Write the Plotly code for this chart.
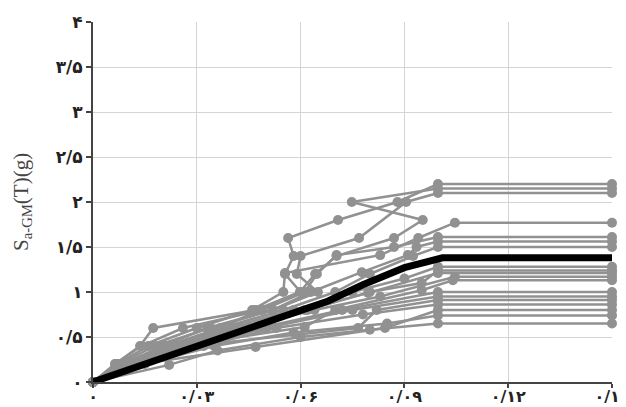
import plotly.graph_objects as go

# Gray IDA records: drift (x) and Sa (y); last point is the flat collapse line end
r01_x = [0, 0.008, 0.022, 0.037, 0.048, 0.060, 0.0555, 0.058, 0.0564, 0.0708, 0.088, 0.0997, 0.15]
r01_y = [0, 0.2, 0.4, 0.6, 0.8, 1.0, 1.2, 1.4, 1.6, 1.8, 2.0, 2.2, 2.2]
r02_x = [0, 0.0064, 0.0136, 0.0174, 0.047, 0.0598, 0.0642, 0.0704, 0.087, 0.0953, 0.0748, 0.0997, 0.15]
r02_y = [0, 0.2, 0.4, 0.6, 0.8, 1.0, 1.2, 1.4, 1.6, 1.8, 2.0, 2.15, 2.15]
r03_x = [0, 0.009, 0.020, 0.033, 0.052, 0.065, 0.0589, 0.060, 0.0769, 0.0905, 0.0997, 0.15]
r03_y = [0, 0.2, 0.4, 0.6, 0.8, 1.0, 1.2, 1.4, 1.6, 2.0, 2.1, 2.1]
r04_x = [0, 0.007, 0.016, 0.030, 0.046, 0.055, 0.0555, 0.083, 0.094, 0.1046, 0.15]
r04_y = [0, 0.2, 0.4, 0.6, 0.8, 1.0, 1.21, 1.41, 1.6, 1.77, 1.77]
r05_x = [0, 0.0064, 0.014, 0.026, 0.049, 0.0612, 0.0647, 0.0704, 0.087, 0.0997, 0.15]
r05_y = [0, 0.2, 0.4, 0.6, 0.8, 1.0, 1.2, 1.41, 1.5, 1.61, 1.61]
r06_x = [0, 0.0075, 0.018, 0.034, 0.052, 0.063, 0.0777, 0.091, 0.0935, 0.0997, 0.15]
r06_y = [0, 0.2, 0.4, 0.6, 0.8, 1.0, 1.22, 1.41, 1.5, 1.56, 1.56]
r07_x = [0, 0.008, 0.021, 0.037, 0.055, 0.070, 0.080, 0.0925, 0.0997, 0.15]
r07_y = [0, 0.2, 0.4, 0.6, 0.8, 1.0, 1.2, 1.4, 1.5, 1.5]
r08_x = [0, 0.009, 0.022, 0.039, 0.058, 0.075, 0.090, 0.0997, 0.15]
r08_y = [0, 0.2, 0.4, 0.6, 0.8, 1.0, 1.15, 1.28, 1.28]
r09_x = [0, 0.010, 0.024, 0.041, 0.062, 0.080, 0.095, 0.0997, 0.15]
r09_y = [0, 0.2, 0.4, 0.6, 0.8, 1.0, 1.1, 1.24, 1.24]
r10_x = [0, 0.0095, 0.023, 0.045, 0.0612, 0.0795, 0.0997, 0.15]
r10_y = [0, 0.2, 0.4, 0.6, 0.8, 0.99, 1.21, 1.21]
r11_x = [0, 0.011, 0.026, 0.043, 0.064, 0.083, 0.1046, 0.15]
r11_y = [0, 0.2, 0.4, 0.6, 0.8, 0.95, 1.17, 1.17]
r12_x = [0, 0.010, 0.025, 0.0612, 0.070, 0.095, 0.104, 0.15]
r12_y = [0, 0.2, 0.4, 0.61, 0.8, 1.02, 1.13, 1.13]
r13_x = [0, 0.012, 0.028, 0.048, 0.072, 0.0997, 0.15]
r13_y = [0, 0.2, 0.4, 0.6, 0.8, 1.0, 1.0]
r14_x = [0, 0.0115, 0.030, 0.050, 0.075, 0.0997, 0.15]
r14_y = [0, 0.2, 0.4, 0.6, 0.8, 0.95, 0.95]
r15_x = [0, 0.012, 0.0256, 0.0766, 0.082, 0.0997, 0.15]
r15_y = [0, 0.2, 0.39, 0.6, 0.8, 0.91, 0.91]
r16_x = [0, 0.013, 0.032, 0.053, 0.078, 0.0997, 0.15]
r16_y = [0, 0.2, 0.4, 0.6, 0.75, 0.86, 0.86]
r17_x = [0, 0.0136, 0.047, 0.0844, 0.0997, 0.15]
r17_y = [0, 0.2, 0.39, 0.6, 0.8, 0.8]
r18_x = [0, 0.015, 0.035, 0.058, 0.085, 0.0997, 0.15]
r18_y = [0, 0.2, 0.4, 0.55, 0.65, 0.74, 0.74]
r19_x = [0, 0.022, 0.036, 0.060, 0.080, 0.0997, 0.15]
r19_y = [0, 0.19, 0.35, 0.5, 0.58, 0.65, 0.65]

# Median curve
median_x = [0, 0.020, 0.035, 0.054, 0.068, 0.078, 0.090, 0.101, 0.15]
median_y = [0, 0.27, 0.47, 0.72, 0.90, 1.08, 1.27, 1.38, 1.38]

x_tickvals = [0, 0.03, 0.06, 0.09, 0.12, 0.15]
x_ticktext = ["۰", "۰/۰۳", "۰/۰۶", "۰/۰۹", "۰/۱۲", "۰/۱۵"]
y_tickvals = [0, 0.5, 1, 1.5, 2, 2.5, 3, 3.5, 4]
y_ticktext = ["۰", "۰/۵", "۱", "۱/۵", "۲", "۲/۵", "۳", "۳/۵", "۴"]

records = [
    (r01_x, r01_y), (r02_x, r02_y), (r03_x, r03_y), (r04_x, r04_y), (r05_x, r05_y),
    (r06_x, r06_y), (r07_x, r07_y), (r08_x, r08_y), (r09_x, r09_y), (r10_x, r10_y),
    (r11_x, r11_y), (r12_x, r12_y), (r13_x, r13_y), (r14_x, r14_y), (r15_x, r15_y),
    (r16_x, r16_y), (r17_x, r17_y), (r18_x, r18_y), (r19_x, r19_y),
]

fig = go.Figure()
gray = "rgb(145,145,145)"
for xs, ys in records:
    fig.add_trace(go.Scatter(
        x=xs, y=ys, mode="lines+markers",
        line=dict(color=gray, width=2.5),
        marker=dict(color=gray, size=10, symbol="circle"),
        showlegend=False, hoverinfo="skip", cliponaxis=False,
    ))

fig.add_trace(go.Scatter(
    x=median_x, y=median_y, mode="lines",
    line=dict(color="black", width=7),
    showlegend=False, hoverinfo="skip",
))

xtickfont = dict(family="DejaVu Sans", size=16, color="#222", weight="bold")
ytickfont = dict(family="DejaVu Sans", size=17, color="#222", weight="bold")

# page body has an 8px margin, so the figure is sized/margined to compensate
fig.update_layout(
    width=618, height=399,
    margin=dict(l=85, r=14, t=14, b=25, autoexpand=False),
    paper_bgcolor="white", plot_bgcolor="white",
    xaxis=dict(
        range=[0, 0.15], tickvals=x_tickvals, ticktext=x_ticktext,
        showgrid=True, gridcolor="rgb(212,212,212)", gridwidth=1.2,
        showline=True, linecolor="#444", linewidth=2,
        ticks="outside", ticklen=4, tickcolor="#444", tickwidth=1.5,
        zeroline=False, tickfont=xtickfont, automargin=False,
        ticklabeloverflow="allow", ticklabelstandoff=-5,
    ),
    yaxis=dict(
        range=[0, 4], tickvals=y_tickvals, ticktext=y_ticktext,
        showgrid=True, gridcolor="rgb(212,212,212)", gridwidth=1.2,
        showline=True, linecolor="#444", linewidth=2,
        ticks="outside", ticklen=5, tickcolor="#444", tickwidth=1.5,
        zeroline=False, tickfont=ytickfont, automargin=False,
    ),
    annotations=[dict(
        text="S<sub>a-GM</sub>(T)(g)", textangle=-90,
        xref="paper", yref="paper", x=-0.137, y=0.5,
        xanchor="center", yanchor="middle", showarrow=False,
        font=dict(family="Liberation Serif", size=21, color="#444"),
    )],
)

fig.write_html("out.html")
